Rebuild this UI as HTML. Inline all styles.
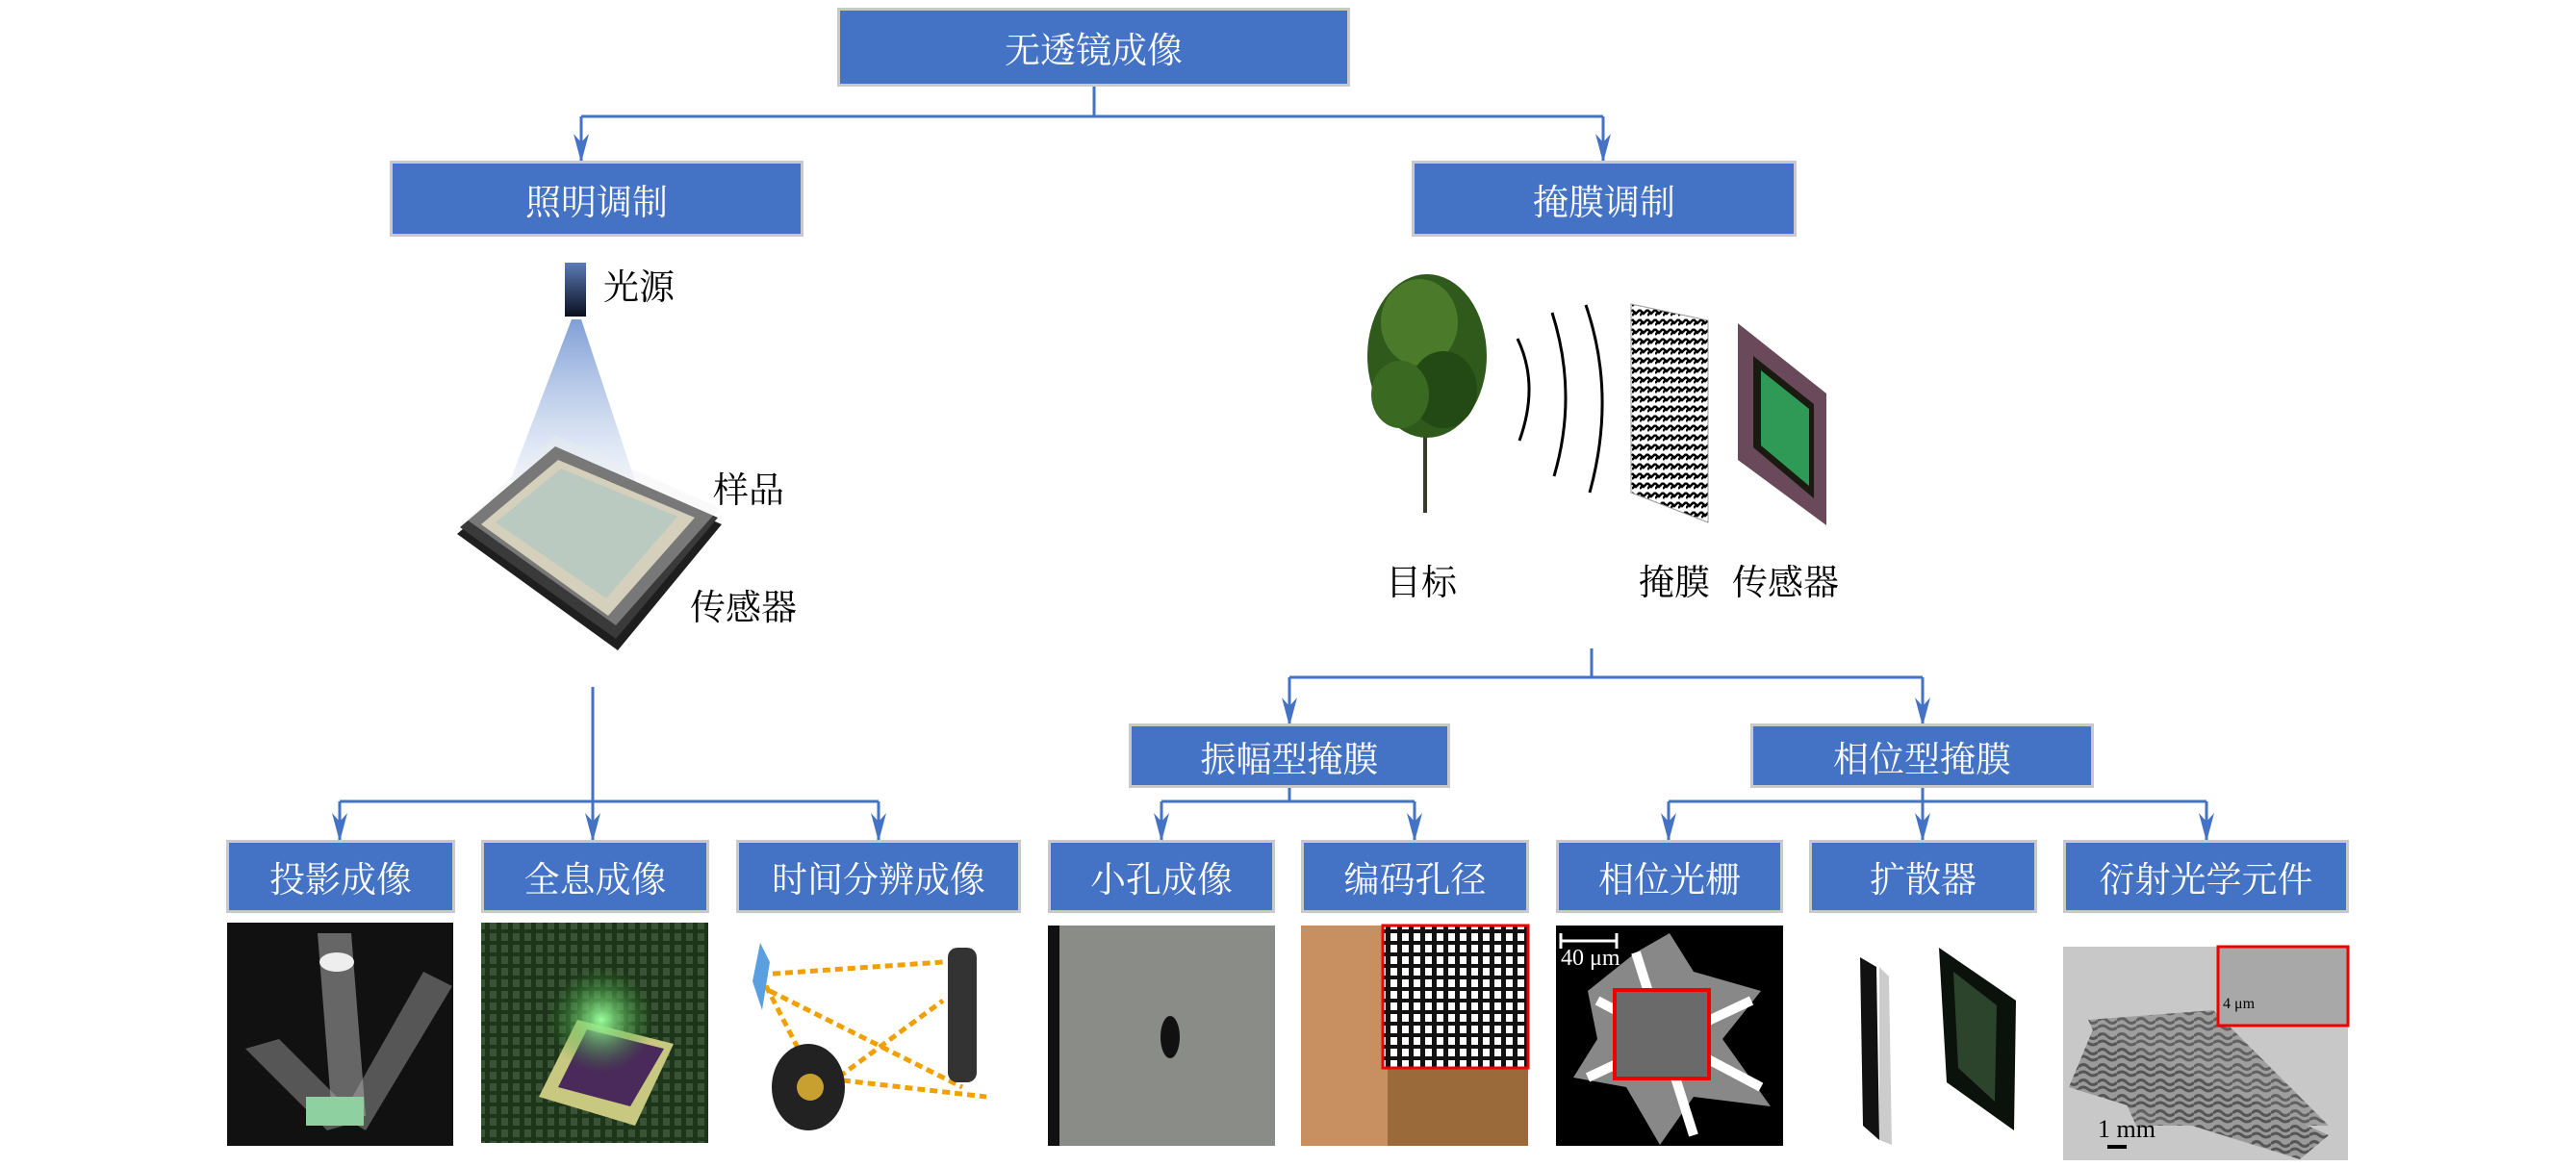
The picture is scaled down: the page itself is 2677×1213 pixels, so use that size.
<!DOCTYPE html>
<html><head><meta charset="utf-8"><style>
body{margin:0;width:2677px;height:1213px;background:#fff;position:relative;overflow:hidden;font-family:"Liberation Serif","Noto Serif CJK SC","Noto Sans CJK SC",serif}
.b{position:absolute;background:#4472C4;border:3px solid #c9c9c9;box-sizing:border-box;color:#fff;font-size:37px;display:flex;align-items:center;justify-content:center;letter-spacing:0px}
.t{position:absolute;font-size:37px;color:#000;line-height:1}
svg{position:absolute;left:0;top:0}
</style></head><body>
<svg width="2677" height="1213" viewBox="0 0 2677 1213">
<defs>
<marker id="a" markerWidth="30" markerHeight="16" refX="28" refY="8" orient="auto" markerUnits="userSpaceOnUse"><path d="M0,0 L9,8 L0,16 L30,8 Z" fill="#4472C4"/></marker>
<linearGradient id="cone" x1="0" y1="0" x2="0" y2="1"><stop offset="0" stop-color="#7f9fd6"/><stop offset="1" stop-color="#e6edf8" stop-opacity="0.6"/></linearGradient>
<linearGradient id="ls" x1="0" y1="0" x2="0" y2="1"><stop offset="0" stop-color="#5b7bb8"/><stop offset="1" stop-color="#0a0f1e"/></linearGradient>
<radialGradient id="glow" cx="0.5" cy="0.5" r="0.5"><stop offset="0" stop-color="#9cff9c"/><stop offset="1" stop-color="#2a8a2a" stop-opacity="0"/></radialGradient>
<pattern id="grid" width="12" height="12" patternUnits="userSpaceOnUse"><rect width="12" height="12" fill="#fff"/><rect width="5" height="12" fill="#111"/><rect width="12" height="4" y="6" fill="#111"/></pattern>
<pattern id="mz" width="8" height="10" patternUnits="userSpaceOnUse"><rect width="8" height="10" fill="#fff"/><path d="M0,2 L4,6 L8,2 M0,8 L4,4" stroke="#000" stroke-width="2.5" fill="none"/></pattern>
<pattern id="blob" width="20" height="16" patternUnits="userSpaceOnUse"><rect width="20" height="16" fill="#9a9a9a"/><path d="M0,5 Q5,0 10,5 T20,5 M0,12 Q5,8 10,12 T20,12" stroke="#555" stroke-width="3" fill="none"/></pattern>
</defs>
<g stroke="#4472C4" stroke-width="3" fill="none">
<path d="M1137,89 V121"/><path d="M604,121 H1666"/>
<path d="M604,121 V167" marker-end="url(#a)"/><path d="M1666,121 V167" marker-end="url(#a)"/>
<path d="M1654,674 V704"/><path d="M1340,704 H1998"/>
<path d="M1340,704 V753" marker-end="url(#a)"/><path d="M1998,704 V753" marker-end="url(#a)"/>
<path d="M616,714 V873" marker-end="url(#a)"/><path d="M353,833 H913"/>
<path d="M353,833 V873" marker-end="url(#a)"/><path d="M913,833 V873" marker-end="url(#a)"/>
<path d="M1340,818 V833"/><path d="M1207,833 H1470"/>
<path d="M1207,833 V873" marker-end="url(#a)"/><path d="M1470,833 V873" marker-end="url(#a)"/>
<path d="M1998,818 V873" marker-end="url(#a)"/><path d="M1734,833 H2293"/>
<path d="M1734,833 V873" marker-end="url(#a)"/><path d="M2293,833 V873" marker-end="url(#a)"/>
</g>
<!-- left illustration -->
<rect x="587" y="273" width="22" height="56" fill="url(#ls)"/>
<polygon points="594,332 604,332 660,500 530,500" fill="url(#cone)"/>
<polygon points="475,555 575,470 750,545 642,676" fill="#1e1e1e"/>
<polygon points="478,548 577,464 746,538 640,664" fill="#3a3a3a"/>
<polygon points="500,545 580,478 722,538 632,640" fill="#c8c0a0"/>
<polygon points="515,543 583,487 704,537 630,622" fill="#9fb7a8"/>
<polygon points="485,540 577,452 748,528 640,650" fill="#eeeeee" opacity="0.35"/>
<!-- right illustration -->
<line x1="1481" y1="420" x2="1481" y2="533" stroke="#3a3a2a" stroke-width="4"/>
<ellipse cx="1483" cy="370" rx="62" ry="85" fill="#2f5a1c"/>
<ellipse cx="1475" cy="335" rx="40" ry="45" fill="#4a7a2a"/>
<ellipse cx="1500" cy="405" rx="35" ry="40" fill="#234a14"/>
<ellipse cx="1455" cy="410" rx="30" ry="35" fill="#3a6a22"/>
<g stroke="#000" stroke-width="3" fill="none">
<path d="M1577,352 Q1600,400 1579,458"/>
<path d="M1613,325 Q1640,410 1615,495"/>
<path d="M1648,317 Q1680,410 1652,512"/>
</g>
<polygon points="1695,316 1775,333 1775,543 1695,512" fill="url(#mz)" stroke="#999" stroke-width="1"/>
<polygon points="1806,336 1898,409 1898,546 1806,478" fill="#6a4a5a"/>
<polygon points="1822,370 1885,420 1885,518 1822,465" fill="#1a1a10"/>
<polygon points="1830,385 1880,425 1880,505 1830,463" fill="#2f9a55"/>
<!-- bottom images -->
<rect x="236" y="959" width="235" height="232" fill="#111"/>
<polygon points="330,970 365,970 380,1160 345,1160" fill="#bbb" opacity="0.5"/>
<polygon points="255,1090 290,1080 375,1165 340,1175" fill="#aaa" opacity="0.45"/>
<polygon points="440,1010 470,1025 380,1175 355,1160" fill="#aaa" opacity="0.45"/>
<ellipse cx="350" cy="1000" rx="18" ry="10" fill="#eee"/>
<rect x="318" y="1140" width="60" height="30" fill="#8fd0a0"/>
<rect x="500" y="959" width="236" height="229" fill="#1f3a1a"/>
<rect x="500" y="959" width="236" height="229" fill="url(#grid)" opacity="0.12"/>
<polygon points="600,1060 700,1085 660,1170 560,1140" fill="#c8c880"/>
<polygon points="610,1070 690,1090 655,1150 580,1130" fill="#4a2a5a"/>
<circle cx="625" cy="1060" r="55" fill="url(#glow)"/>
<rect x="765" y="959" width="295" height="232" fill="#fff"/>
<g stroke="#f0a000" stroke-width="5" stroke-dasharray="8,5" fill="none">
<path d="M790,1013 L980,1000 M800,1030 L1000,1130 M830,1150 L980,1040 M850,1120 L1025,1140 M790,1013 L850,1130"/>
</g>
<polygon points="790,980 800,1000 792,1050 782,1020" fill="#5aa0e0"/>
<ellipse cx="840" cy="1130" rx="38" ry="45" fill="#222"/>
<circle cx="842" cy="1130" r="14" fill="#c8a030"/>
<rect x="985" y="985" width="30" height="140" fill="#333" rx="10"/>
<rect x="1089" y="962" width="236" height="229" fill="#8a8c88"/>
<rect x="1089" y="962" width="12" height="229" fill="#111"/>
<ellipse cx="1216" cy="1078" rx="10" ry="22" fill="#111"/>
<rect x="1352" y="962" width="236" height="229" fill="#9a6a3a"/>
<rect x="1352" y="962" width="90" height="229" fill="#c89060"/>
<rect x="1437" y="962" width="151" height="148" fill="url(#grid)" stroke="#e00" stroke-width="3"/>
<rect x="1617" y="962" width="236" height="229" fill="#000"/>
<polygon points="1650,1030 1700,990 1735,970 1760,1010 1830,1030 1790,1080 1840,1150 1760,1140 1725,1190 1690,1130 1635,1120 1660,1080" fill="#888"/>
<path d="M1660,1040 L1830,1130 M1700,990 L1760,1180 M1820,1040 L1650,1120" stroke="#fff" stroke-width="10"/>
<rect x="1678" y="1029" width="98" height="92" fill="#6a6a6a" stroke="#e00" stroke-width="4"/>
<path d="M1622,978 H1680 M1622,970 V986 M1680,970 V986" stroke="#fff" stroke-width="3"/>
<text x="1622" y="1003" font-size="24" fill="#fff" font-family="Liberation Serif">40 μm</text>
<polygon points="1933,995 1950,1005 1953,1185 1936,1170" fill="#111"/>
<polygon points="1953,1005 1963,1015 1966,1190 1953,1185" fill="#ccc"/>
<polygon points="2015,985 2095,1040 2093,1175 2023,1125" fill="#0b120b"/>
<polygon points="2030,1010 2075,1045 2073,1145 2035,1110" fill="#3a5a3a" opacity="0.7"/>
<rect x="2144" y="984" width="296" height="222" fill="#c8c8c8"/>
<polygon points="2175,1070 2420,1180 2390,1205 2150,1130" fill="url(#blob)"/>
<polygon points="2170,1060 2300,1050 2420,1170 2220,1170" fill="url(#blob)" opacity="0.9"/>
<rect x="2305" y="984" width="135" height="82" fill="#a8a8a8" stroke="#e00" stroke-width="3"/>
<text x="2310" y="1048" font-size="16" fill="#000" font-family="Liberation Serif">4 μm</text>
<text x="2180" y="1182" font-size="26" fill="#000" font-family="Liberation Serif">1 mm</text>
<rect x="2190" y="1190" width="20" height="4" fill="#000"/>
</svg>
<div class="b" style="left:870px;top:8px;width:533px;height:82px">无透镜成像</div>
<div class="b" style="left:405px;top:167px;width:430px;height:79px">照明调制</div>
<div class="b" style="left:1467px;top:167px;width:400px;height:79px">掩膜调制</div>
<div class="b" style="left:1173px;top:752px;width:334px;height:67px">振幅型掩膜</div>
<div class="b" style="left:1819px;top:752px;width:357px;height:67px">相位型掩膜</div>
<div class="b" style="left:235px;top:873px;width:238px;height:76px">投影成像</div>
<div class="b" style="left:500px;top:873px;width:237px;height:76px">全息成像</div>
<div class="b" style="left:765px;top:873px;width:296px;height:76px">时间分辨成像</div>
<div class="b" style="left:1089px;top:873px;width:236px;height:76px">小孔成像</div>
<div class="b" style="left:1352px;top:873px;width:237px;height:76px">编码孔径</div>
<div class="b" style="left:1617px;top:873px;width:236px;height:76px">相位光栅</div>
<div class="b" style="left:1880px;top:873px;width:237px;height:76px">扩散器</div>
<div class="b" style="left:2144px;top:873px;width:297px;height:76px">衍射光学元件</div>
<div class="t" style="left:627px;top:281px">光源</div>
<div class="t" style="left:741px;top:492px">样品</div>
<div class="t" style="left:717px;top:614px">传感器</div>
<div class="t" style="left:1440px;top:588px">目标</div>
<div class="t" style="left:1703px;top:588px">掩膜</div>
<div class="t" style="left:1800px;top:588px">传感器</div>
</body></html>
